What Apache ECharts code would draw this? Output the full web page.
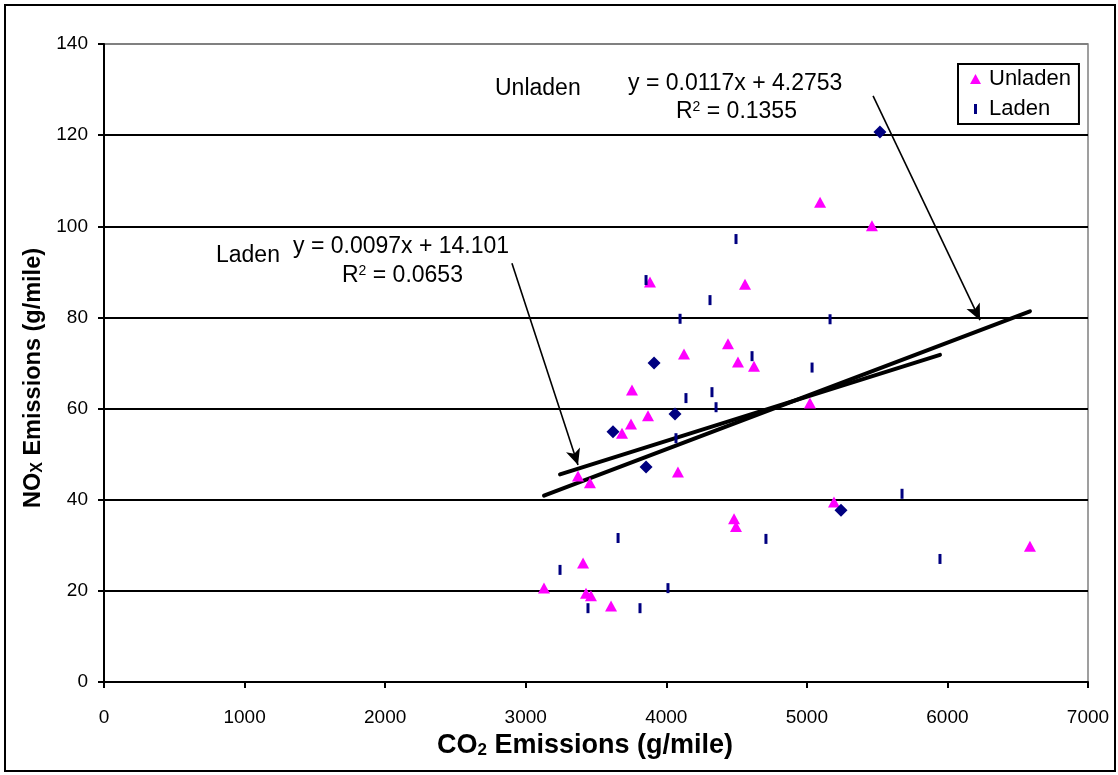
<!DOCTYPE html>
<html>
<head>
<meta charset="utf-8">
<script src="https://cdn.jsdelivr.net/npm/echarts@6/dist/echarts.min.js"></script>
<style>
  html, body { margin: 0; padding: 0; background: #ffffff; }
  #chart { width: 1118px; height: 775px; }
</style>
</head>
<body>
<div id="chart"></div>
<script>
// Unladen runs: CO2 (g/mile) and NOx (g/mile)
const unladenCO2 = [3408, 3429, 3464, 3130, 3607, 3372, 3457, 3685, 3749, 3870, 4083, 3756, 4126,
                    3884, 4439, 4510, 4560, 4624, 5022, 5094, 5463, 5193, 6587, 4482, 4496];
const unladenNOx = [26.1, 19.5, 18.9, 20.6, 16.7, 45.2, 43.7, 54.6, 56.6, 58.4, 46.1, 64.1, 72.0,
                    87.8, 74.2, 70.2, 87.3, 69.3, 61.2, 105.3, 100.1, 39.5, 29.8, 35.8, 34.1];

// Laden runs (bar markers)
const ladenCO2 = [3244, 3443, 3657, 3813, 4012, 4069, 4709, 4354, 4325, 4140, 4098, 4311, 4496,
                  3856, 4610, 5037, 5165, 5677, 5947];
const ladenNOx = [24.6, 16.2, 31.6, 16.2, 20.6, 53.5, 31.4, 60.3, 63.6, 62.3, 79.7, 83.8, 97.2,
                  88.2, 71.5, 69.0, 79.6, 41.3, 27.0];

// Laden runs drawn with diamond markers
const ladenDiamondCO2 = [3621, 3913, 4062, 3856, 5520, 5243];
const ladenDiamondNOx = [54.9, 70.0, 58.8, 47.2, 120.7, 37.7];

// Linear trend lines (slope, intercept) and R squared
const unladenFit = { slope: 0.0117, intercept: 4.2753, r2: '0.1355' };
const ladenFit = { slope: 0.0097, intercept: 14.101, r2: '0.0653' };

// Callout arrows, in data units: [start, tip]
const unladenArrow = [[5471, 128.6], [6232, 79.4]];
const ladenArrow = [[2902, 91.9], [3372, 47.6]];

// Axis ranges
const xAxisRange = { min: 0, max: 7000, interval: 1000 };
const yAxisRange = { min: 0, max: 140, interval: 20 };

const FONT = '"Liberation Sans", Arial, sans-serif';
const NOTE_SIZE = 23;

const zip = (xs, ys) => xs.map((x, i) => [x, ys[i]]);

function fitLine(fit, xs) {
  const lo = Math.min(...xs), hi = Math.max(...xs);
  return [[lo, fit.slope * lo + fit.intercept], [hi, fit.slope * hi + fit.intercept]];
}

const ladenAllCO2 = ladenCO2.concat(ladenDiamondCO2);

const arrowStyle = {
  silent: true,
  symbol: ['none', 'arrow'],
  symbolSize: [11, 16],
  label: { show: false },
  lineStyle: { color: '#000', width: 1.6, type: 'solid' },
  emphasis: { disabled: true }
};

const chart = echarts.init(document.getElementById('chart'), null, { renderer: 'canvas' });

const nGrid = (yAxisRange.max - yAxisRange.min) / yAxisRange.interval + 1;
const splitColors = [];
for (let i = 0; i < nGrid; i++) splitColors.push(i === nGrid - 1 ? '#808080' : '#000000');

function supText(r2) {
  return '{a|R}{s|2}{a| = ' + r2 + '}';
}
const supRich = {
  a: { fontSize: NOTE_SIZE, fontFamily: FONT, color: '#000' },
  s: { fontSize: 14, fontFamily: FONT, color: '#000', verticalAlign: 'top' }
};

chart.setOption({
  animation: false,
  backgroundColor: '#ffffff',
  textStyle: { fontFamily: FONT },
  grid: {
    left: 104, top: 44, right: 30, bottom: 93,
    show: true, borderColor: '#808080', borderWidth: 1.5, backgroundColor: '#ffffff'
  },
  legend: {
    left: 958, top: 64,
    orient: 'vertical',
    padding: [4, 8, 4, 12],
    itemGap: 8,
    itemWidth: 11, itemHeight: 10,
    borderColor: '#000', borderWidth: 2, borderRadius: 0,
    backgroundColor: '#ffffff',
    textStyle: { fontSize: 22, color: '#000', fontFamily: FONT, padding: [0, 0, 0, 3] },
    data: [
      { name: 'Unladen', icon: 'triangle' },
      { name: 'Laden', icon: 'path://M0,0H3V10H0Z' }
    ]
  },
  xAxis: {
    type: 'value',
    min: xAxisRange.min, max: xAxisRange.max, interval: xAxisRange.interval,
    name: '{b|CO}{sub|2}{b| Emissions (g/mile)}',
    nameLocation: 'middle',
    nameGap: 49,
    nameTextStyle: {
      padding: [0, 22, 0, 0],
      rich: {
        b: { fontSize: 27, fontWeight: 'bold', fontFamily: FONT, color: '#000' },
        sub: { fontSize: 17, fontWeight: 'bold', fontFamily: FONT, color: '#000', verticalAlign: 'bottom' }
      }
    },
    axisLine: { show: true, onZero: false, lineStyle: { color: '#000', width: 2 } },
    axisTick: { show: true, inside: false, length: 6, lineStyle: { color: '#000', width: 2 } },
    axisLabel: { fontSize: 19, color: '#000', margin: 26, fontFamily: FONT, formatter: v => String(v) },
    splitLine: { show: false }
  },
  yAxis: {
    type: 'value',
    min: yAxisRange.min, max: yAxisRange.max, interval: yAxisRange.interval,
    name: '{b|NO}{sub|X}{b| Emissions (g/mile)}',
    nameLocation: 'middle',
    nameGap: 53,
    nameRotate: 90,
    nameTextStyle: {
      padding: [0, 30, 0, 0],
      rich: {
        b: { fontSize: 23.5, fontWeight: 'bold', fontFamily: FONT, color: '#000' },
        sub: { fontSize: 16, fontWeight: 'bold', fontFamily: FONT, color: '#000', verticalAlign: 'bottom' }
      }
    },
    axisLine: { show: true, onZero: false, lineStyle: { color: '#000', width: 2 } },
    axisTick: { show: true, inside: false, length: 6, lineStyle: { color: '#000', width: 2 } },
    axisLabel: { fontSize: 19, color: '#000', margin: 16, fontFamily: FONT, formatter: v => String(v) },
    splitLine: { show: true, lineStyle: { color: splitColors, width: 2 } }
  },
  series: [
    {
      name: 'Unladen',
      type: 'scatter',
      symbol: 'triangle',
      symbolSize: [12, 11],
      itemStyle: { color: '#ff00ff', opacity: 1 },
      data: zip(unladenCO2, unladenNOx),
      z: 4
    },
    {
      name: 'Laden',
      type: 'scatter',
      symbol: 'rect',
      symbolSize: [3, 10],
      itemStyle: { color: '#000080', opacity: 1 },
      data: zip(ladenCO2, ladenNOx),
      z: 4
    },
    {
      name: 'Laden diamonds',
      type: 'scatter',
      symbol: 'diamond',
      symbolSize: [13, 13],
      itemStyle: { color: '#000080', opacity: 1 },
      data: zip(ladenDiamondCO2, ladenDiamondNOx),
      z: 4
    },
    {
      name: 'Unladen trend',
      type: 'line',
      showSymbol: false,
      symbol: 'none',
      silent: true,
      lineStyle: { color: '#000', width: 4, cap: 'round' },
      data: fitLine(unladenFit, unladenCO2),
      z: 3,
      markLine: Object.assign({}, arrowStyle, {
        data: [[{ coord: unladenArrow[0] }, { coord: unladenArrow[1] }]]
      })
    },
    {
      name: 'Laden trend',
      type: 'line',
      showSymbol: false,
      symbol: 'none',
      silent: true,
      lineStyle: { color: '#000', width: 4, cap: 'round' },
      data: fitLine(ladenFit, ladenAllCO2),
      z: 3,
      markLine: Object.assign({}, arrowStyle, {
        data: [[{ coord: ladenArrow[0] }, { coord: ladenArrow[1] }]]
      })
    }
  ],
  graphic: [
    // outer chart frame
    {
      type: 'rect', silent: true, z: -10,
      shape: { x: 5, y: 5, width: 1110, height: 766 },
      style: { fill: 'none', stroke: '#000', lineWidth: 2 }
    },
    // trend line captions
    {
      type: 'text', left: 495, top: 77, silent: true,
      style: { text: 'Unladen', fontSize: NOTE_SIZE, fontFamily: FONT, fill: '#000' }
    },
    {
      type: 'text', left: 628, top: 72, silent: true,
      style: {
        text: 'y = ' + unladenFit.slope + 'x + ' + unladenFit.intercept,
        fontSize: NOTE_SIZE, fontFamily: FONT, fill: '#000'
      }
    },
    {
      type: 'text', left: 676, top: 100, silent: true,
      style: { text: supText(unladenFit.r2), rich: supRich }
    },
    {
      type: 'text', left: 216, top: 244, silent: true,
      style: { text: 'Laden', fontSize: NOTE_SIZE, fontFamily: FONT, fill: '#000' }
    },
    {
      type: 'text', left: 293, top: 235, silent: true,
      style: {
        text: 'y = ' + ladenFit.slope + 'x + ' + ladenFit.intercept,
        fontSize: NOTE_SIZE, fontFamily: FONT, fill: '#000'
      }
    },
    {
      type: 'text', left: 342, top: 264, silent: true,
      style: { text: supText(ladenFit.r2), rich: supRich }
    }
  ]
});
</script>
</body>
</html>
